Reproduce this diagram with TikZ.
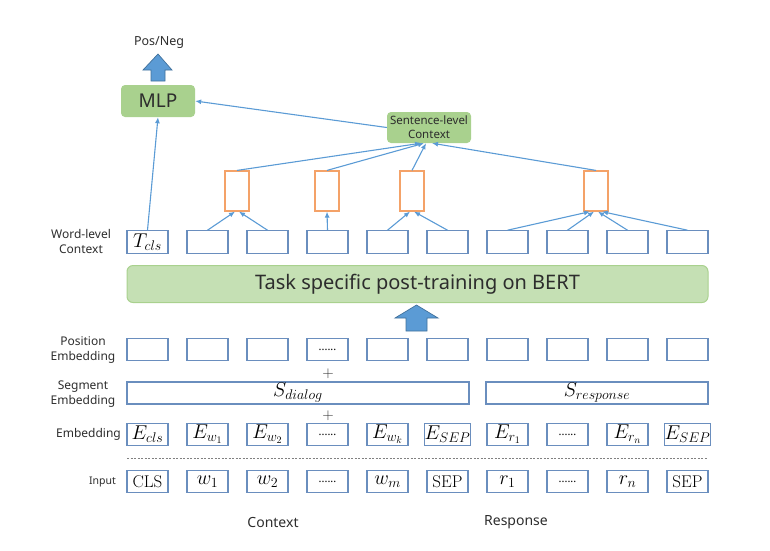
\documentclass[tikz,border=0pt]{standalone}
\usepackage{fix-cm}
\usepackage[no-math]{fontspec}
\setmainfont{Noto Sans}
\usepackage{amsmath}
\usepackage{amssymb}
\usetikzlibrary{arrows.meta}
\definecolor{boxblue}{RGB}{106,142,190}
\definecolor{lineblue}{RGB}{91,155,213}
\definecolor{arrowedge}{RGB}{65,113,156}
\definecolor{mlpgreen}{RGB}{169,209,142}
\definecolor{bertgreen}{RGB}{197,224,180}
\definecolor{boxorange}{RGB}{244,162,104}
\definecolor{txtgray}{RGB}{45,45,45}
\newcommand{\fsz}[1]{\fontsize{#1}{#1}\selectfont}
\newcommand{\dotsrow}{{\fsz{11}......}}
\newcommand{\tokrm}[1]{{\fsz{17}$\mathrm{#1}$}}

\begin{document}
\begin{tikzpicture}[x=1pt,y=-1pt,
	tok/.style={draw=boxblue,line width=1.1pt,minimum width=41pt,minimum height=22.5pt,inner sep=0pt,text=black,font=\fsz{20}},
	pool/.style={draw=boxorange,line width=1.2pt,minimum width=24pt,minimum height=40pt,inner sep=0pt},
	mlpbox/.style={fill=mlpgreen,rounded corners=4pt,inner sep=0pt,text=txtgray},
	link/.style={draw=lineblue,line width=1.1pt,-{Latex[length=6pt,width=5pt]}},
	fat/.style={fill=lineblue,draw=arrowedge,line width=0.7pt},
	lbl/.style={align=center,text=txtgray,font=\fontsize{12}{15}\selectfont,inner sep=0pt}]
	\useasboundingbox (0,0) rectangle (770,550);
	\node[lbl,font=\fsz{12.5}] (out) at (159,43) {Pos/Neg};
	\draw[fat] (158,54) -- (172,70) -- (165,70) -- (165,81) -- (151,81) -- (151,70) -- (143,70) -- cycle;
	\node[mlpbox,minimum width=74pt,minimum height=32pt,font=\fsz{19}] (mlp) at (158,101) {MLP};
	\node[mlpbox,minimum width=84pt,minimum height=31pt,align=center,font=\fontsize{11.5}{14}\selectfont] (sent) at (429,127.5) {Sentence-level\\Context};
	\foreach \j/\x in {1/237,2/327,3/412,4/596}
	{
		\node[pool] (o\j) at (\x,191) {};
	}
	\node[mlpbox,fill=bertgreen,draw=mlpgreen,line width=1pt,rounded corners=6pt,minimum width=581pt,minimum height=37pt,font=\fsz{20}] (bert) at (417.5,284) {Task specific post-training on BERT};
	\draw[fat] (416.5,305) -- (438,318) -- (427,318) -- (427,331) -- (406,331) -- (406,318) -- (395,318) -- cycle;
	\foreach \i/\w/\p/\e/\s in {
		0/{$T_{cls}$}/{}/{$E_{cls}$}/{\tokrm{CLS}},
		1/{}/{}/{$E_{w_1}$}/{$w_1$},
		2/{}/{}/{$E_{w_2}$}/{$w_2$},
		3/{}/{\dotsrow}/{\dotsrow}/{\dotsrow},
		4/{}/{}/{$E_{w_k}$}/{$w_m$},
		5/{}/{}/{$E_{SEP}$}/{\tokrm{SEP}},
		6/{}/{}/{$E_{r_1}$}/{$r_1$},
		7/{}/{}/{\dotsrow}/{\dotsrow},
		8/{}/{}/{$E_{r_n}$}/{$r_n$},
		9/{}/{}/{$E_{SEP}$}/{\tokrm{SEP}}}
	{
		\node[tok] (wc\i) at (147.5+60*\i,242) {\w};
		\node[tok] (pe\i) at (147.5+60*\i,349.5) {\p};
		\node[tok] (em\i) at (147.5+60*\i,434.5) {\e};
		\node[tok] (in\i) at (147.5+60*\i,481.5) {\s};
	}
	\node[tok,minimum width=342pt,minimum height=22pt] (seg1) at (298,393) {$S_{dialog}$};
	\node[tok,minimum width=222pt,minimum height=22pt] (seg2) at (597,393) {$S_{response}$};
	\node[lbl,font=\fsz{15}] (plus1) at (328,374) {$+$};
	\node[lbl,font=\fsz{15}] (plus2) at (328,416) {$+$};
	\coordinate (dl) at (127,458);
	\coordinate (dr) at (708,458);
	\draw[gray,line width=0.8pt,dash pattern=on 2pt off 1.5pt] (dl) -- (dr);
	\node[lbl] (wlbl) at (81,241.5) {Word-level\\Context};
	\node[lbl] (plbl) at (83,350.5) {Position\\Embedding};
	\node[lbl] (slbl) at (83,394.5) {Segment\\Embedding};
	\node[lbl,anchor=east] (elbl) at (121,434.5) {Embedding};
	\node[lbl,anchor=east,font=\fsz{10.5}] (ilbl) at (116,482) {Input};
	\node[lbl,font=\fsz{14}] (ctx) at (273,522) {Context};
	\node[lbl,font=\fsz{14}] (resp) at (516,522) {Response};
	\draw[link] (wc0.north) -- (mlp.south);
	\foreach \a/\b/\s in {1/1/-2,2/1/2,3/2/0,4/3/-2,5/3/2,6/4/-6,7/4/-2,8/4/2,9/4/6}
	{
		\draw[link] (wc\a.north) -- ([xshift=\s pt]o\b.south);
	}
	\foreach \b/\s in {1/-8,2/-5,3/-3,4/3}
	{
		\draw[link] (o\b.north) -- ([xshift=\s pt]sent.south);
	}
	\draw[link] (sent.west) -- (mlp.east);
\end{tikzpicture}
\end{document}
